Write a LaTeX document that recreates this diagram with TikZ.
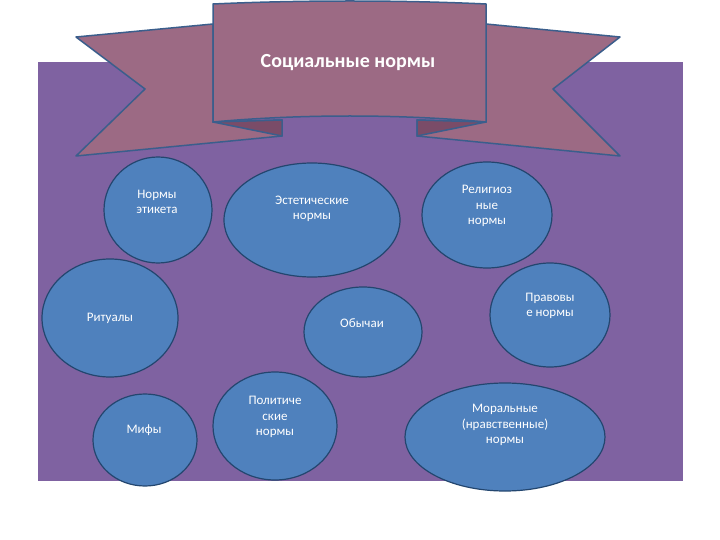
\documentclass[tikz,border=0pt]{standalone}
\usepackage{fontspec}
\setmainfont{Carlito}
\definecolor{bgp}{HTML}{7F62A1}
\definecolor{ban}{HTML}{9C6A84}
\definecolor{band}{HTML}{7A4C68}
\definecolor{bord}{HTML}{3B5E8C}
\definecolor{ef}{HTML}{4F81BD}
\definecolor{eb}{HTML}{23466F}
\tikzset{
 el/.style={ellipse,draw=eb,line width=1.2pt,fill=ef,text=white,align=center,font=\fontsize{13}{15.5}\selectfont,inner sep=0pt},
 bn/.style={draw=bord,line width=1.5pt,fill=ban,line join=round},
 bd/.style={draw=bord,line width=1.5pt,fill=band,line join=round}
}
\usetikzlibrary{shapes.geometric}
\begin{document}
\begin{tikzpicture}[x=1pt,y=-1pt]
\useasboundingbox (0,0) rectangle (720,540);
\fill[white] (0,0) rectangle (720,540);
\fill[bgp] (38,62) rectangle (683,481);
% banner tails
\path[bn] (213,24) -- (76,37) -- (145,89) -- (76,156) -- (282,136) -- (282,120) -- (213,122) -- cycle;
\path[bn] (486,24) -- (620,37) -- (553,89) -- (620,156) -- (417,136) -- (417,120) -- (486,122) -- cycle;
\path[bd] (213,122) -- (282,120) -- (282,136) -- cycle;
\path[bd] (486,122) -- (417,120) -- (417,136) -- cycle;
% center panel
\path[bn] (213,4) .. controls (300,0) and (400,0) .. (486,4) -- (486,122) .. controls (400,114) and (300,114) .. (213,122) -- cycle;
\node[text=white,font=\fontsize{20}{24}\selectfont\bfseries] (title) at (348,63) {Социальные нормы};
% ellipses
\node[el,minimum width=108pt,minimum height=106pt] (e1) at (158,210) {};
\node[text=white,align=center,font=\fontsize{13}{15.5}\selectfont] (t1) at (157,202) {Нормы\\этикета};
\node[el,minimum width=176pt,minimum height=114pt] (e2) at (312,220) {};
\node[text=white,align=center,font=\fontsize{13}{15.5}\selectfont] (t2) at (312,209) {Эстетические\\нормы};
\node[el,minimum width=130pt,minimum height=106pt] (e3) at (487,215) {};
\node[text=white,align=center,font=\fontsize{13}{15.5}\selectfont] (t3) at (487,206) {Религиоз\\ные\\нормы};
\node[el,minimum width=136pt,minimum height=118pt] (e4) at (110,318) {Ритуалы};
\node[el,minimum width=118pt,minimum height=90pt] (e5) at (363,332) {};
\node[text=white,font=\fontsize{13}{15.5}\selectfont] (t5) at (362,323) {Обычаи};
\node[el,minimum width=120pt,minimum height=104pt] (e6) at (550,315) {};
\node[text=white,align=center,font=\fontsize{13}{15.5}\selectfont] (t6) at (550,306) {Правовы\\е нормы};
\node[el,minimum width=104pt,minimum height=92pt] (e7) at (145,440) {};
\node[text=white,font=\fontsize{13}{15.5}\selectfont] (t7) at (144,430) {Мифы};
\node[el,minimum width=124pt,minimum height=108pt] (e8) at (275,426) {};
\node[text=white,align=center,font=\fontsize{13}{15.5}\selectfont] (t8) at (275,417) {Политиче\\ские\\нормы};
\node[el,minimum width=200pt,minimum height=108pt] (e9) at (505,437) {};
\node[text=white,align=center,font=\fontsize{13}{15.5}\selectfont] (t9) at (505,425) {Моральные\\(нравственные)\\нормы};
\end{tikzpicture}
\end{document}
